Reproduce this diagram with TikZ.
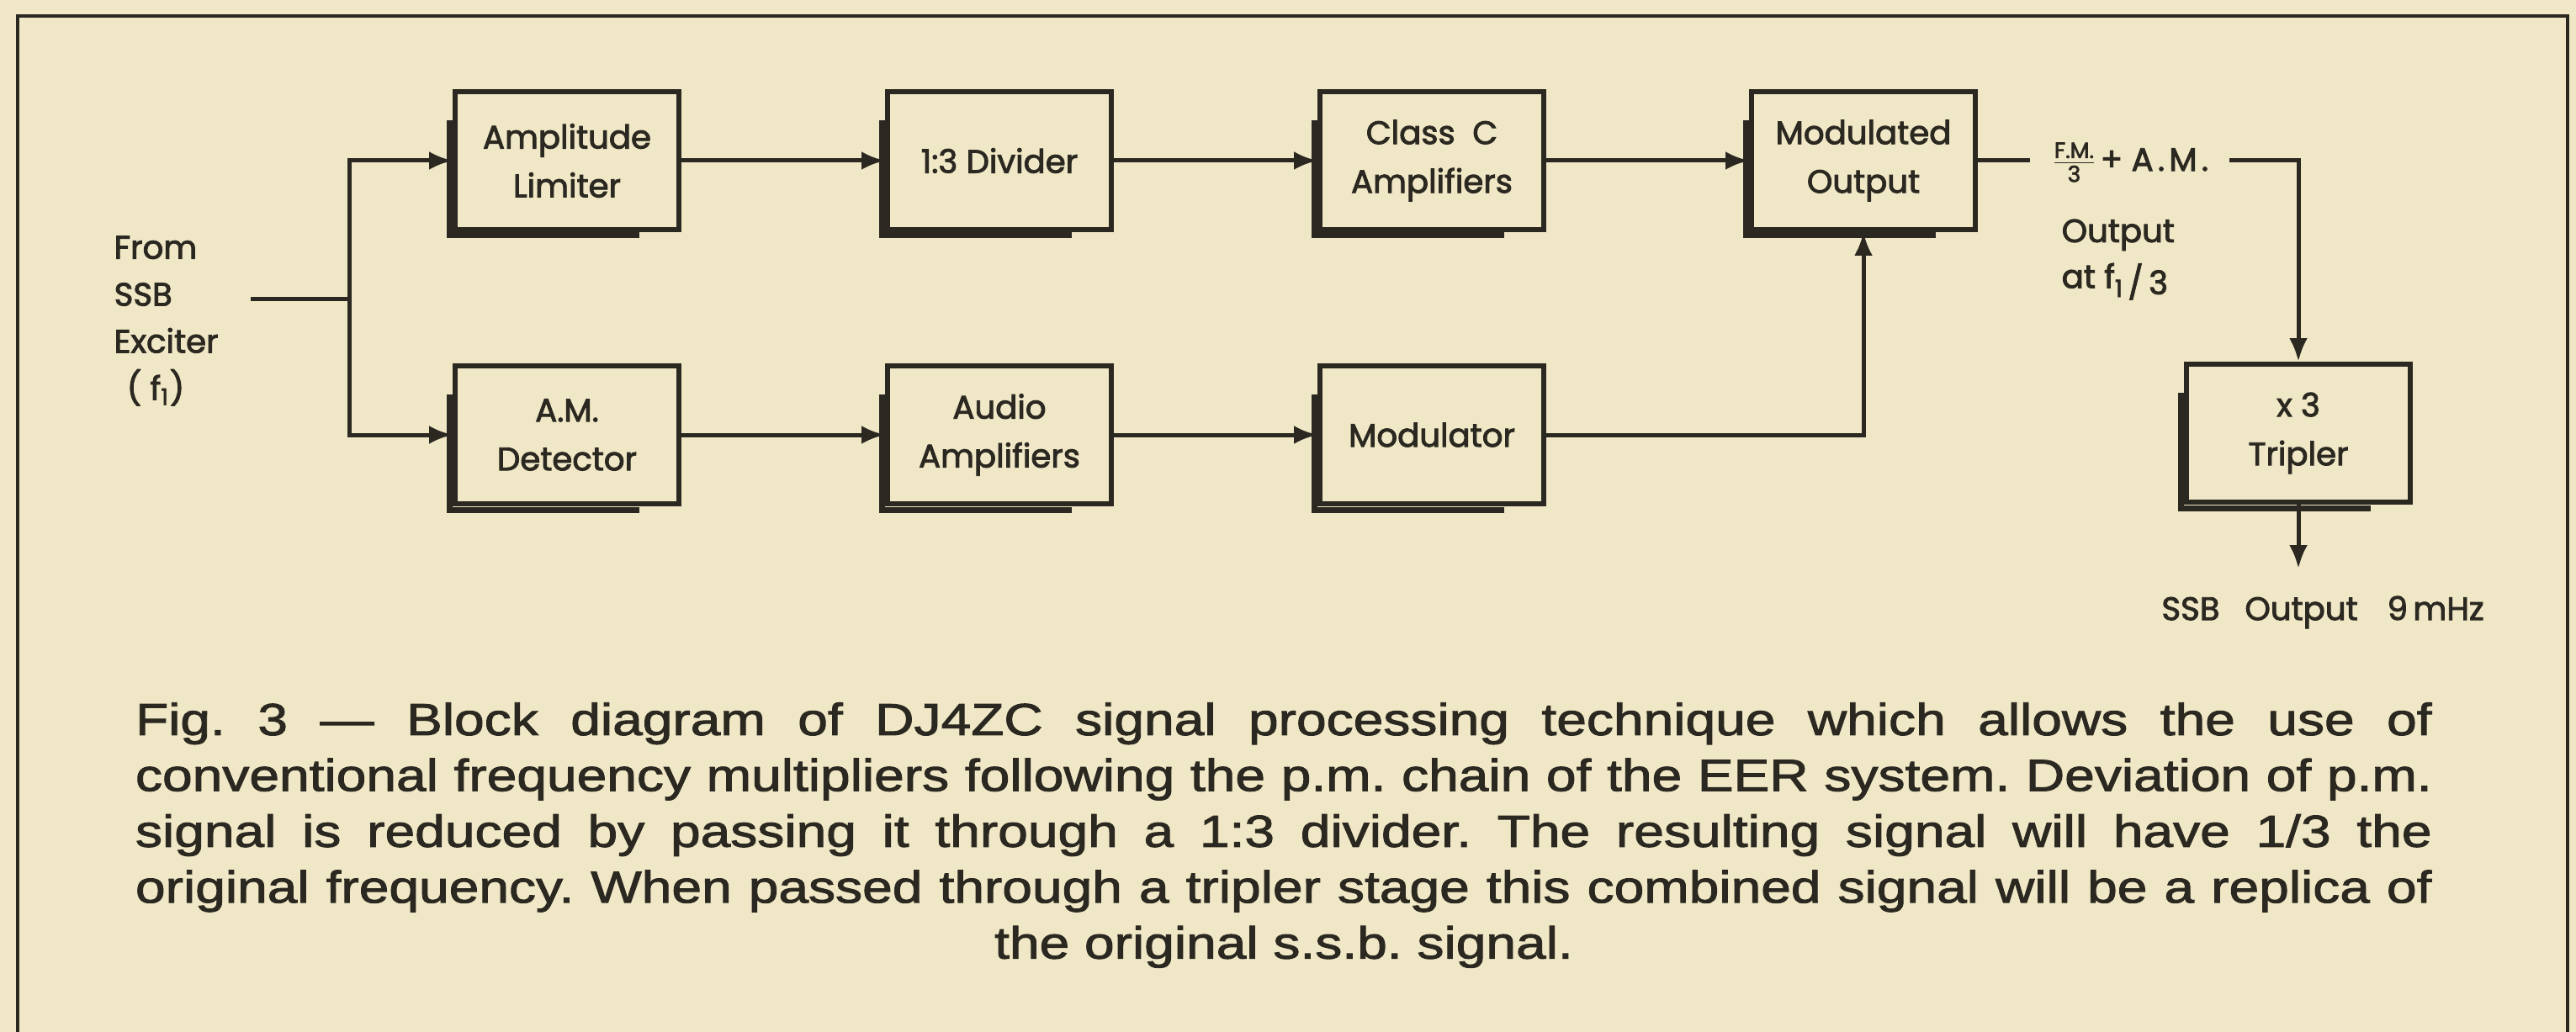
\documentclass[tikz,border=0pt]{standalone}
\usepackage{fontspec}
\usepackage{amsmath}
\usepackage{tikz}
\usetikzlibrary{arrows.meta, positioning}
\setmainfont{Liberation Sans}
\newfontfamily\diagfont[FakeBold=2.4]{Poppins}
\newfontfamily\capfont[FakeStretch=1.2, FakeBold=1.8]{Liberation Sans}
\definecolor{paper}{HTML}{F0E7C6}
\definecolor{ink}{HTML}{2A2820}

\begin{document}
\begin{tikzpicture}[
    blk/.style  = {rectangle, draw=ink, line width=0.06cm, fill=paper,
                   minimum width=2.66cm, minimum height=1.64cm, inner sep=0pt,
                   align=center, text=ink, font=\diagfont\fontsize{11}{16.5}\selectfont},
    shade/.style = {draw=ink, line width=0.07cm},
    arr/.style  = {-{Latex[length=0.28cm, width=0.22cm]}, draw=ink, line width=0.05cm},
    wire/.style = {draw=ink, line width=0.05cm},
    lbl/.style  = {text=ink, inner sep=0pt, font=\diagfont\fontsize{11}{15.9}\selectfont},
    frame/.style = {draw=ink, line width=0.04cm}
  ]
  % paper and frame
  \fill[paper] (0,0) rectangle (30.62,-12.27);
  \useasboundingbox (0,0) rectangle (30.62,-12.27);
  \draw[frame] (0.21,-12.27) -- (0.21,-0.19) -- (30.52,-0.19) -- (30.52,-12.27);

  % Upper chain
  \node[blk] (limiter)  at ( 6.74,-1.91) {Amplitude\\Limiter};
  \node[blk] (divider)  at (11.88,-1.91) {1:3 Divider};
  \node[blk] (classc)   at (17.02,-1.91) {Class\ \ C\\Amplifiers};
  \node[blk] (modout)   at (22.15,-1.91) {Modulated\\Output};

  % Lower chain
  \node[blk] (detector) at ( 6.74,-5.17) {A.M.\\Detector};
  \node[blk] (audio)    at (11.88,-5.17) {Audio\\Amplifiers};
  \node[blk] (modul)    at (17.02,-5.17) {Modulator};
  \node[blk] (tripler)  at (27.32,-5.15) {x 3\\Tripler};

  % shadow edges of the boxes
  \foreach \b in {limiter,divider,classc,modout,detector,audio,modul,tripler}
    \draw[shade] ([xshift=-0.04cm,yshift=-0.37cm]\b.north west)
      -- ([xshift=-0.04cm,yshift=-0.04cm]\b.south west)
      -- ([xshift=-0.5cm,yshift=-0.04cm]\b.south east);

  % Labels
  \node[lbl, align=left, anchor=north west] (source) at (1.35,-2.80)
    {From\\SSB\\Exciter\\\hspace*{0.15cm}( f\textsubscript{1})};
  \node[lbl, anchor=west, inner xsep=0.24cm] (fmam) at (24.13,-1.93)
    {$\frac{\text{\fontsize{7.5}{8}\selectfont F.M.}}{\text{\fontsize{7.5}{8}\selectfont 3}}$\kern1pt+\kern3pt
     A\kern1.5pt.\kern1.5ptM\kern1.5pt.};
  \node[lbl, align=left, anchor=north west, font=\diagfont\fontsize{11}{15.5}\selectfont]
    (outf) at (24.50,-2.60)
    {Output\\at f\raisebox{-0.5ex}{\footnotesize 1}\raisebox{-0.35ex}{\,/\,3}};
  \node[lbl, inner ysep=0.32cm] (ssbout) at (27.61,-7.28)
    {SSB\hspace{0.3cm}Output\hspace{0.35cm}9\,mHz};

  \coordinate (in)    at (2.98,-3.55);
  \coordinate (split) at (4.15,-3.55);

  % Connectors
  \draw[wire] (in) -- (split);
  \draw[arr] (split) |- (limiter.west);
  \draw[arr] (split) |- (detector.west);
  \draw[arr] (limiter)  -- (divider);
  \draw[arr] (divider)  -- (classc);
  \draw[arr] (classc)   -- (modout);
  \draw[arr] (detector) -- (audio);
  \draw[arr] (audio)    -- (modul);
  \draw[arr] (modul)    -| (modout);
  \draw[wire] (modout)  -- (modout -| fmam.west);
  \draw[arr] (fmam.east |- modout) -| (tripler.north);
  \draw[arr] (tripler.south) -- (tripler.south |- ssbout.north);

  % Caption
  \node[text=ink, text width=27.3cm, align=justify, inner sep=0pt,
        font=\capfont\fontsize{15.2}{18.9}\selectfont\frenchspacing] (caption) at (15.26,-9.93)
    {Fig. 3 — Block diagram of DJ4ZC signal processing technique which allows the use of\linebreak
     conventional frequency multipliers following the p.m. chain of the EER system. Deviation of p.m.\linebreak
     signal is reduced by passing it through a 1:3 divider. The resulting signal will have 1/3 the\linebreak
     original frequency. When passed through a tripler stage this combined signal will be a replica of\linebreak
     \hspace*{\fill}the original s.s.b. signal.\hspace*{\fill}};
\end{tikzpicture}
\end{document}
